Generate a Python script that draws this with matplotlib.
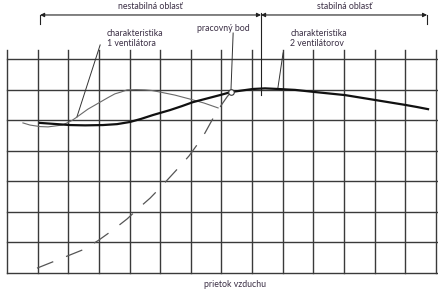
import matplotlib
matplotlib.use("Agg")
import matplotlib.pyplot as plt
import numpy as np

plt.rcParams['font.family'] = ['Lato', 'DejaVu Sans']

# grid in cell units: 14 columns x 7 rows
n_cols = 14
n_rows = 7

# characteristic of 2 fans (thick)
u2 = [1.08, 2.06, 2.55, 3.13, 3.59, 4.01, 4.37, 4.77, 5.32, 5.71, 6.07, 6.53, 6.95, 7.31,
      7.67, 8.03, 8.42, 8.84, 9.40, 10.05, 10.54, 11.03, 11.52, 12.01, 12.50, 12.99, 13.38, 13.74]
v2 = [4.91, 4.84, 4.83, 4.84, 4.87, 4.94, 5.04, 5.17, 5.33, 5.46, 5.59, 5.71, 5.82, 5.92,
      5.97, 6.02, 6.04, 6.02, 5.99, 5.92, 5.87, 5.82, 5.74, 5.66, 5.58, 5.50, 5.43, 5.36]

# characteristic of 1 fan (thin)
u1 = [0.52, 0.75, 1.08, 1.34, 1.57, 1.80, 1.96, 2.12, 2.28, 2.64, 3.04, 3.30, 3.52, 3.72,
      3.92, 4.21, 4.50, 4.73, 4.99, 5.48, 5.97, 6.43, 6.89]
v1 = [4.91, 4.84, 4.79, 4.78, 4.81, 4.84, 4.91, 4.99, 5.10, 5.36, 5.59, 5.74, 5.86, 5.92,
      5.99, 6.00, 5.99, 5.97, 5.92, 5.82, 5.69, 5.56, 5.40]

# system (dashed)
us = [0.98, 1.73, 2.55, 3.00, 3.46, 3.92, 4.34, 4.67, 4.99, 5.32, 5.65, 5.94, 6.20, 6.46,
      6.69, 6.85, 7.02, 7.18, 7.31]
vs = [0.16, 0.46, 0.79, 1.08, 1.41, 1.77, 2.16, 2.45, 2.78, 3.14, 3.50, 3.83, 4.19, 4.58,
      5.00, 5.27, 5.53, 5.76, 5.92]

op_point = (7.31, 5.92)
border_u = 8.29
left_u, right_u = 1.08, 13.71
dim_v = 8.44

txt_col = '#3b2f45'
grid_col = '#3a3a3a'

fig = plt.figure(figsize=(4.38, 2.92), dpi=100)
ax = fig.add_axes([0, 0, 1, 1])
ax.set_xlim(-0.228, 14.065)
ax.set_ylim(-0.62, 8.93)
ax.axis('off')

# grid
for i in range(n_cols + 1):
    ax.plot([i, i], [0, 7.29], color=grid_col, lw=1.0, zorder=1)
for j in range(n_rows + 1):
    ax.plot([0, 14.065], [j, j], color=grid_col, lw=1.0, zorder=1)

# curves
ax.plot(u1, v1, color='#6a6a6a', lw=0.8, zorder=3)
ax.plot(u2, v2, color='#111111', lw=1.6, zorder=4, solid_joinstyle='round')
ax.plot(us, vs, color='#555555', lw=0.9, dashes=(14, 11), zorder=3)
ax.plot(*op_point, marker='o', ms=4, mfc='white', mec='#333333', mew=0.8, zorder=5)

# leaders
ax.plot([3.04, 2.28], [7.46, 5.10], color='#333333', lw=0.7, zorder=2)
ax.plot([7.38, 7.31], [7.85, 6.01], color='#333333', lw=0.7, zorder=2)
ax.plot([9.01, 8.84], [7.20, 6.05], color='#333333', lw=0.7, zorder=2)

# dimension line for regions
ax.plot([border_u, border_u], [8.50, 5.82], color='#222222', lw=0.8)
ax.plot([left_u, left_u], [dim_v, 8.15], color='#222222', lw=0.8)
ax.plot([right_u, right_u], [dim_v, 8.15], color='#222222', lw=0.8)
ax.annotate('', xy=(left_u, dim_v), xytext=(border_u, dim_v),
            arrowprops=dict(arrowstyle='<|-|>', color='#222222', lw=0.8,
                            mutation_scale=6, shrinkA=0, shrinkB=0))
ax.annotate('', xy=(right_u, dim_v), xytext=(border_u, dim_v),
            arrowprops=dict(arrowstyle='<|-|>', color='#222222', lw=0.8,
                            mutation_scale=6, shrinkA=0, shrinkB=0))

fs = 6.3
ax.text(4.67, 8.72, 'nestabilná oblasť', ha='center', va='center', fontsize=fs, color=txt_col)
ax.text(11.0, 8.72, 'stabilná oblasť', ha='center', va='center', fontsize=fs, color=txt_col)
ax.text(3.26, 7.98, 'charakteristika\n1 ventilátora', ha='left', va='top', fontsize=fs,
        color=txt_col, linespacing=1.1)
ax.text(6.2, 8.01, 'pracovný bod', ha='left', va='center', fontsize=fs, color=txt_col)
ax.text(9.24, 7.98, 'charakteristika\n2 ventilátorov', ha='left', va='top', fontsize=fs,
        color=txt_col, linespacing=1.1)
ax.text(7.44, -0.36, 'prietok vzduchu', ha='center', va='center', fontsize=fs, color=txt_col)

fig.savefig('out.png', dpi=100)
